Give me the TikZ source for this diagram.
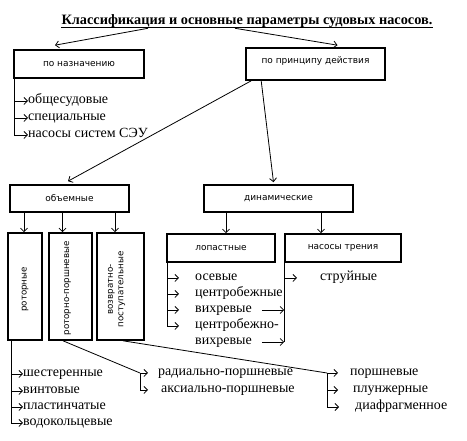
\documentclass[tikz,border=0pt]{standalone}
\usepackage{fontspec}
\setmainfont{Liberation Serif}
\newfontfamily\boxfont{DejaVu Sans}
\usetikzlibrary{arrows.meta}
\usetikzlibrary{calc}

\begin{document}
\begin{tikzpicture}[
    x=1pt, y=-1pt,
    box/.style={rectangle, draw, line width=1.6pt, inner sep=0pt, align=center, font=\boxfont\fontsize{9}{10}\selectfont},
    vbox/.style={box, minimum height=107pt},
    vtext/.style={rotate=90, inner sep=0pt, align=center, font=\boxfont\fontsize{8.7}{10.5}\selectfont},
    item/.style={anchor=west, inner sep=0pt, text height=6pt, text depth=0pt, font=\fontsize{14}{16}\selectfont},
    arrow/.style={-{Straight Barb[length=3.5pt,width=7pt]}, line width=0.8pt},
    link/.style={line width=0.8pt}
]
\useasboundingbox (0,0) rectangle (467,441);

% Title
\node[anchor=base, inner sep=0pt, font=\bfseries\fontsize{14.3}{16}\selectfont] (title) at (247,25) {Классификация и основные параметры судовых насосов.};
\draw[line width=0.8pt] ([yshift=-2.5pt]title.base west) -- ([yshift=-2.5pt]title.base east);

% Boxes
\node[box, minimum width=130pt, minimum height=28pt] (nazn) at (79,64) {по назначению};
\node[box, minimum width=139pt, minimum height=32pt, text depth=7pt] (princ) at (315.5,64) {по принципу действия};
\node[box, minimum width=119pt, minimum height=27pt] (objem) at (69.5,198.5) {объемные};
\node[box, minimum width=149pt, minimum height=27pt] (din) at (278.5,198.5) {динамические};
\node[vbox, minimum width=34pt] (rotor) at (25,286.5) {};
\node[vbox, minimum width=43pt] (rotpor) at (70.5,286.5) {};
\node[vbox, minimum width=47pt] (vozvr) at (120.5,286.5) {};
\node[box, minimum width=108pt, minimum height=28pt] (lopast) at (221,248) {лопастные};
\node[box, minimum width=116pt, minimum height=28pt] (tren) at (343,248) {насосы трения};

\node[vtext] at ([yshift=-3pt]rotor.center) {роторные};
\node[vtext] at ([xshift=-3pt,yshift=-2pt]rotpor.center) {роторно-поршневые};
\node[vtext] at ([xshift=-4pt,yshift=-3pt]vozvr.center) {возвратно-\\поступательные};

\draw[arrow] ([xshift=-99pt]title.south) -- ([xshift=-24pt,yshift=4pt]nazn.north);
\draw[arrow] ([xshift=-12pt]title.south) -- ([xshift=22pt,yshift=2pt]princ.north);
\draw[arrow] ([xshift=6pt]princ.south west) -- ([xshift=-1.5pt,yshift=3pt]objem.north);
\draw[arrow] ([xshift=16pt]princ.south west) -- ([xshift=-5pt,yshift=2pt]din.north);

\draw[arrow] ([xshift=-1pt]rotor.north |- objem.south) -- ([xshift=-1pt]rotor.north);
\draw[arrow] ([xshift=-8pt]rotpor.north |- objem.south) -- ([xshift=-8pt]rotpor.north);
\draw[arrow] ([xshift=-5.5pt]vozvr.north |- objem.south) -- ([xshift=-5.5pt]vozvr.north);
\draw[arrow] ([xshift=5pt]lopast.north |- din.south) -- ([xshift=5pt]lopast.north);
\draw[arrow] ([xshift=-22pt]tren.north |- din.south) -- ([xshift=-22pt]tren.north);

% Lists
\node[item] (n1) at (28,101) {общесудовые};
\node[item] (n2) at (28,118) {специальные};
\node[item] (n3) at (28,135) {насосы систем СЭУ};
\foreach \i in {1,2,3}
    \draw[arrow] ([xshift=1pt]nazn.south west) |- (n\i.west);

\node[item] (r1) at (23,374) {шестеренные};
\node[item] (r2) at (23,391) {винтовые};
\node[item] (r3) at (23,407) {пластинчатые};
\node[item] (r4) at (23,423) {водокольцевые};
\foreach \i in {1,...,4}
    \draw[arrow] ([xshift=4pt]rotor.south west) |- (r\i.west);

\coordinate (rpfork) at (140,373);
\node[item] (rp1) at (158,373) {радиально-поршневые};
\node[item] (rp2) at (161,390) {аксиально-поршневые};
\draw[link] ([xshift=-7.5pt]rotpor.south) -- (rpfork);
\draw[arrow] (rpfork) -- ([xshift=-10pt]rp1.west);
\draw[arrow] (rpfork) |- ([xshift=-13pt]rp2.west);

\coordinate (vpfork) at (327,373);
\node[item] (vp1) at (350,373) {поршневые};
\node[item] (vp2) at (353,390) {плунжерные};
\node[item] (vp3) at (355,407) {диафрагменное};
\draw[link] ([xshift=2.5pt]vozvr.south) -- (vpfork);
\draw[arrow] (vpfork) -- ([xshift=-12pt]vp1.west);
\draw[arrow] (vpfork) |- ([xshift=-15pt]vp2.west);
\draw[arrow] (vpfork) |- ([xshift=-16pt]vp3.west);

\node[item] (l1) at (195,278) {осевые};
\node[item] (l2) at (195,294) {центробежные};
\node[item] (l3) at (195,310) {вихревые};
\node[item] (l4) at (195,326) {центробежно-};
\node[item] (l5) at (195,342) {вихревые};
\foreach \i in {1,...,4}
    \draw[arrow] ([xshift=1pt]lopast.south west) |- ([xshift=-16pt]l\i.west);

\node[item] (t1) at (320,278) {струйные};
\draw[link] (tren.south west) -- (tren.south west |- l5.west);
\draw[arrow] (tren.south west) |- ([xshift=-23pt]t1.west);
\draw[arrow] ([xshift=10pt]l3.east) -- (l3.east -| tren.south west);
\draw[arrow] ([xshift=10pt]l5.east) -- (l5.east -| tren.south west);

\end{tikzpicture}
\end{document}
